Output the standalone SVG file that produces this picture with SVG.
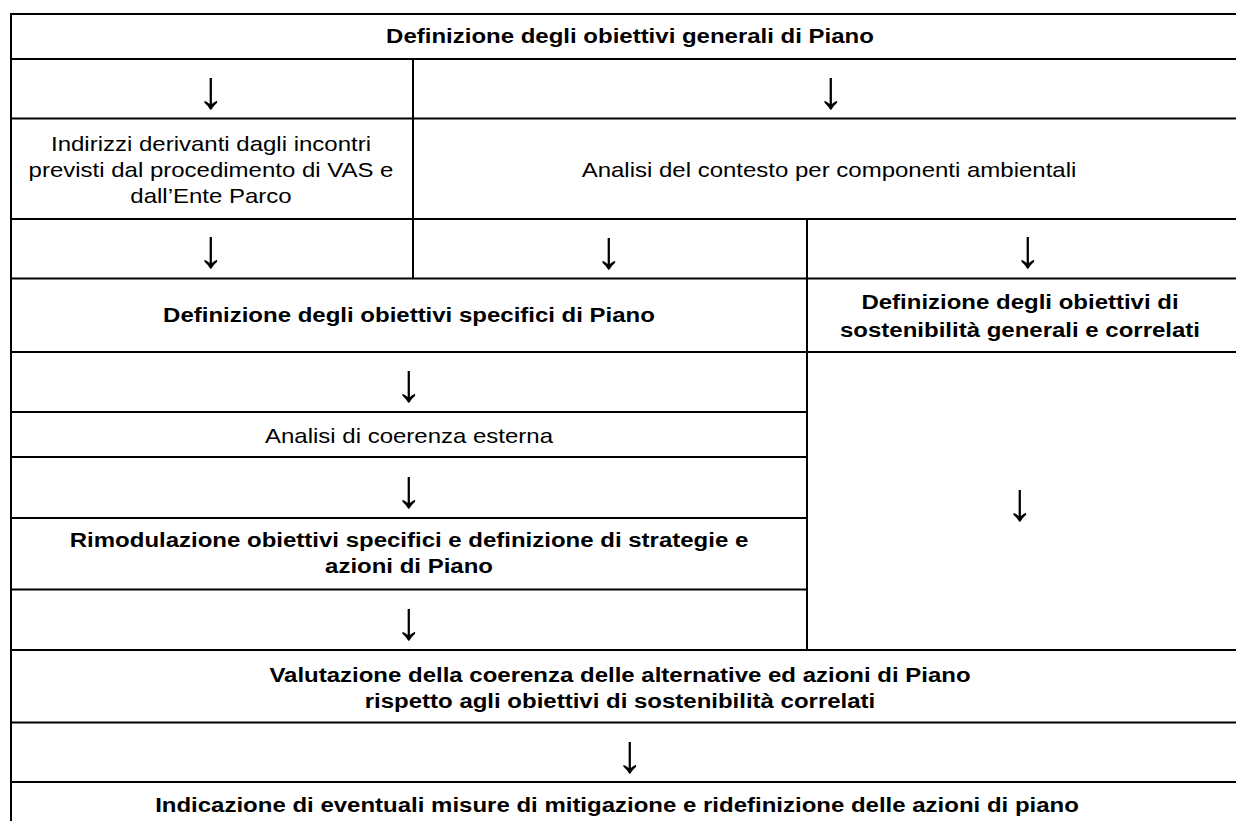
<svg xmlns="http://www.w3.org/2000/svg" width="1236" height="821" viewBox="0 0 1236 821">
<style>
.t{font-family:"Liberation Sans",Arial,sans-serif;font-size:20.3px;fill:#000;text-anchor:middle}
.b{font-weight:bold}
.a{font-family:"Liberation Sans",Arial,sans-serif;font-size:54px;fill:#000;text-anchor:middle}
.g line{stroke:#000;stroke-width:2}
</style>
<rect width="1236" height="821" fill="#fff"/>
<g class="g" id="grid">
<line x1="10" y1="14" x2="1236" y2="14"/>
<line x1="10" y1="59" x2="1236" y2="59"/>
<line x1="10" y1="118.5" x2="1236" y2="118.5"/>
<line x1="10" y1="219" x2="1236" y2="219"/>
<line x1="10" y1="278.5" x2="1236" y2="278.5"/>
<line x1="10" y1="352" x2="1236" y2="352"/>
<line x1="10" y1="412" x2="807" y2="412"/>
<line x1="10" y1="457" x2="807" y2="457"/>
<line x1="10" y1="518" x2="807" y2="518"/>
<line x1="10" y1="589.5" x2="807" y2="589.5"/>
<line x1="10" y1="650" x2="1236" y2="650"/>
<line x1="10" y1="722.5" x2="1236" y2="722.5"/>
<line x1="10" y1="782" x2="1236" y2="782"/>
<line x1="11" y1="13" x2="11" y2="821"/>
<line x1="413" y1="59" x2="413" y2="278.5"/>
<line x1="807" y1="219" x2="807" y2="650"/>
</g>
<g id="n1"><text class="t b" transform="translate(630,43) scale(1.182,1)">Definizione degli obiettivi generali di Piano</text></g>
<g id="n2"><text class="t" transform="translate(211,150.7) scale(1.182,1)">Indirizzi derivanti dagli incontri</text><text class="t" transform="translate(211,177) scale(1.182,1)">previsti dal procedimento di VAS e</text><text class="t" transform="translate(211,203.3) scale(1.182,1)">dall’Ente Parco</text></g>
<g id="n3"><text class="t" transform="translate(829,177) scale(1.182,1)">Analisi del contesto per componenti ambientali</text></g>
<g id="n4"><text class="t b" transform="translate(409,322) scale(1.182,1)">Definizione degli obiettivi specifici di Piano</text></g>
<g id="n5"><text class="t b" transform="translate(1020,309) scale(1.182,1)">Definizione degli obiettivi di</text><text class="t b" transform="translate(1020,336.5) scale(1.182,1)">sostenibilità generali e correlati</text></g>
<g id="n6"><text class="t" transform="translate(409,442.7) scale(1.182,1)">Analisi di coerenza esterna</text></g>
<g id="n7"><text class="t b" transform="translate(409,546.7) scale(1.182,1)">Rimodulazione obiettivi specifici e definizione di strategie e</text><text class="t b" transform="translate(409,573.3) scale(1.182,1)">azioni di Piano</text></g>
<g id="n8"><text class="t b" transform="translate(620,682.3) scale(1.182,1)">Valutazione della coerenza delle alternative ed azioni di Piano</text><text class="t b" transform="translate(620,707.7) scale(1.182,1)">rispetto agli obiettivi di sostenibilità correlati</text></g>
<g id="n9"><text class="t b" transform="translate(617,812) scale(1.182,1)">Indicazione di eventuali misure di mitigazione e ridefinizione delle azioni di piano</text></g>
<g id="connectors">
<text class="a" x="211" y="108">↓</text>
<text class="a" x="831" y="108">↓</text>
<text class="a" x="211" y="267">↓</text>
<text class="a" x="609" y="268">↓</text>
<text class="a" x="1028" y="267">↓</text>
<text class="a" x="409" y="401">↓</text>
<text class="a" x="409" y="507">↓</text>
<text class="a" x="1020" y="520">↓</text>
<text class="a" x="409" y="639">↓</text>
<text class="a" x="630" y="772">↓</text>
</g>
</svg>
